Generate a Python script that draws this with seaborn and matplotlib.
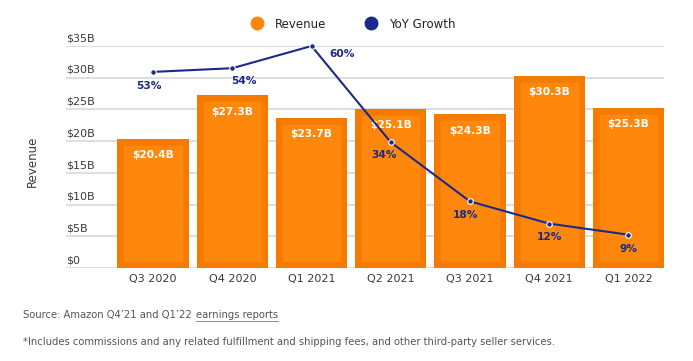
import numpy as np
import pandas as pd
import matplotlib
matplotlib.use("Agg")
import matplotlib.pyplot as plt
import seaborn as sns
from matplotlib.lines import Line2D

# data
quarters = ["Q3 2020", "Q4 2020", "Q1 2021", "Q2 2021", "Q3 2021", "Q4 2021", "Q1 2022"]
revenue = [20.4, 27.3, 23.7, 25.1, 24.3, 30.3, 25.3]
growth = [53, 54, 60, 34, 18, 12, 9]
revenue_labels = ["$20.4B", "$27.3B", "$23.7B", "$25.1B", "$24.3B", "$30.3B", "$25.3B"]
growth_labels = ["53%", "54%", "60%", "34%", "18%", "12%", "9%"]
ytick_values = [0, 5, 10, 15, 20, 25, 30, 35]
ytick_labels = ["$0", "$5B", "$10B", "$15B", "$20B", "$25B", "$30B", "$35B"]

# label offsets (points) for the growth annotations
growth_offsets = [(-3, -10), (8, -9), (22, -6), (-5, -9.5), (-3, -10), (0, -9.5), (0, -10)]

ORANGE_EDGE = "#F47B00"
ORANGE = "#FF880C"
NAVY = "#1A2A8A"
GRID = "#D9DCDF"
TEXT = "#3A3A3A"

sns.set_theme(style="white")
plt.rcParams["font.family"] = ["DejaVu Sans"]

df = pd.DataFrame({"quarter": quarters, "revenue": revenue, "growth": growth})

fig = plt.figure(figsize=(6.93, 3.61), dpi=100)
ax = fig.add_axes([66 / 693, 1 - 268 / 361, (664 - 66) / 693, (268 - 46) / 361])

sns.barplot(data=df, x="quarter", y="revenue", color=ORANGE, width=0.9,
            edgecolor=ORANGE_EDGE, linewidth=9, saturation=1, ax=ax, zorder=2)
for p in ax.patches:
    p.set_facecolor(ORANGE)
    p.set_clip_path(p)

ax.set_ylim(0, 35)
ax.set_xlim(-1.1, 6.45)
ax.set_axisbelow(True)
ax.set_yticks(ytick_values)
ax.set_yticklabels([])
ax.tick_params(axis="y", length=0)
ax.yaxis.grid(True, color=GRID, linewidth=1.3)
ax.tick_params(axis="x", length=0, pad=4, labelsize=8, labelcolor=TEXT)
ax.set_xlabel("")
ax.set_ylabel("Revenue", fontsize=8.5, color=TEXT)
ax.yaxis.set_label_coords(-0.045, 0.48)
for s in ax.spines.values():
    s.set_visible(False)

# y tick labels sit above the grid lines, left aligned
for v, lab in zip(ytick_values, ytick_labels):
    ax.annotate(lab, xy=(0, v), xycoords=ax.get_yaxis_transform(),
                xytext=(0, 2), textcoords="offset points",
                ha="left", va="bottom", fontsize=8, color=TEXT)

# revenue labels inside the bars
for i, (v, lab) in enumerate(zip(revenue, revenue_labels)):
    ax.annotate(lab, xy=(i, v), xytext=(0, -12), textcoords="offset points",
                ha="center", va="center", fontsize=7.7, fontweight="bold",
                color="white", zorder=3)

# growth line on a twin axis
ax2 = ax.twinx()
sns.pointplot(data=df, x="quarter", y="growth", color=NAVY, ax=ax2,
              markers="o", linewidth=1.5, markersize=4,
              markeredgecolor="white", markeredgewidth=0.8)
ax2.set_ylim(0, 60)
ax2.set_xlim(-1.1, 6.45)
ax2.set_yticks([])
ax2.set_ylabel("")
ax2.set_xlabel("")
ax2.tick_params(axis="x", length=0, labelbottom=False)
for s in ax2.spines.values():
    s.set_visible(False)
for line in ax2.lines:
    line.set_clip_on(False)

for i, (g, lab, off) in enumerate(zip(growth, growth_labels, growth_offsets)):
    ax2.annotate(lab, xy=(i, g), xytext=off, textcoords="offset points",
                 ha="center", va="center", fontsize=7.7, fontweight="bold",
                 color=NAVY)

# legend
handles = [
    Line2D([], [], linestyle="none", marker="o", markersize=9,
           markerfacecolor=ORANGE, markeredgecolor=ORANGE),
    Line2D([], [], linestyle="none", marker="o", markersize=9,
           markerfacecolor=NAVY, markeredgecolor=NAVY),
]
fig.legend(handles, ["Revenue", "YoY Growth"], loc="center",
           bbox_to_anchor=(0.51, 1 - 24 / 361), ncol=2, frameon=False,
           fontsize=8.5, labelcolor="#222222", handlelength=1,
           handletextpad=1.0, columnspacing=3.3)

# footnotes
FOOT = 7.2
src = fig.text(23 / 693, 1 - 315 / 361, "Source: Amazon Q4’21 and Q1’22",
               fontsize=FOOT, color="#555555", ha="left", va="center")
link = fig.text(0, 0, "earnings reports", fontsize=FOOT, color="#555555",
                ha="left", va="center")
fig.canvas.draw()
r = fig.canvas.get_renderer()
bb = src.get_window_extent(r)
link.set_position(((bb.x1 + 4) / fig.bbox.width, 1 - 315 / 361))
fig.canvas.draw()
lb = link.get_window_extent(r)
fig.add_artist(Line2D([lb.x0 / fig.bbox.width, lb.x1 / fig.bbox.width],
                      [(lb.y0 - 1) / fig.bbox.height] * 2,
                      color="#777777", linewidth=0.6))

fig.text(23 / 693, 1 - 342 / 361,
         "*Includes commissions and any related fulfillment and shipping fees, "
         "and other third-party seller services.",
         fontsize=FOOT, color="#555555", ha="left", va="center")

fig.savefig("out.png", dpi=100)
